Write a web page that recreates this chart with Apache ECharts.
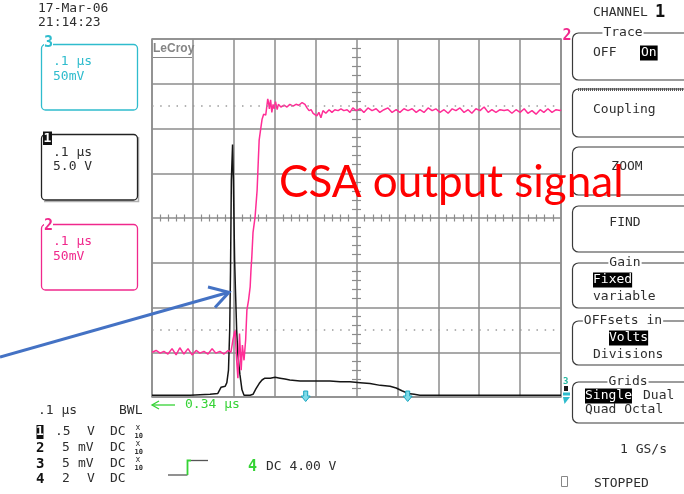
<!DOCTYPE html>
<html>
<head>
<meta charset="utf-8">
<script src="https://cdn.jsdelivr.net/npm/echarts@6/dist/echarts.min.js"></script>
<style>
  html, body { margin: 0; padding: 0; background: #ffffff; }
  #scope { width: 684px; height: 494px; }
</style>
</head>
<body>
<div id="scope"></div>
<script>
// Channel 2 (CSA output): [time ns, mV], 50 mV/div, 0.1 us/div
const ch2Trace = [
  [0,-150],[10,-148],[20,-151],[29,-149],[39,-152],[49,-146],[59,-153],[68,-145],[78,-152],[88,-146],
  [98,-153],[108,-148],[117,-151],[127,-149],[137,-152],[147,-146],[156,-151],[166,-149],[176,-152],[186,-148],
  [193,-150],[198,-136],[203,-125],[207,-159],[210,-179],[214,-129],[218,-170],[221,-142],[225,-159],[229,-136],
  [232,-103],[236,-92],[240,-77],[242,-58],[244,-44],[247,-16],[252,1],[257,31],[260,65],[262,87],
  [265,97],[269,110],[273,116],[278,115],[280,122],[283,133],[285,129],[287,122],[290,132],[293,118],
  [296,127],[299,122],[302,130],[306,121],[309,127],[315,124],[323,126],[330,124],[337,127],[345,125],
  [352,127],[359,126],[367,129],[374,127],[379,123],[384,120],[389,121],[394,117],[398,118],[403,114],
  [408,118],[413,112],[418,120],[425,117],[433,121],[440,118],[447,121],[455,120],[462,122],[469,120],
  [477,121],[484,118],[491,123],[499,120],[509,122],[518,118],[528,123],[538,120],[548,122],[557,118],
  [567,121],[577,123],[587,118],[597,121],[606,118],[616,122],[626,120],[636,122],[646,118],[655,121],
  [665,118],[675,123],[685,120],[694,122],[704,118],[714,121],[724,117],[734,122],[743,120],[753,123],
  [763,118],[773,121],[782,117],[792,122],[802,120],[812,124],[822,118],[831,121],[841,118],[851,121],
  [861,120],[870,121],[880,117],[890,121],[900,118],[910,122],[919,117],[929,120],[939,116],[949,121],
  [958,118],[968,122],[978,118],[988,121],[998,120],[1000,121]
];

// Channel 1 (input pulse): [time ns, V], 5 V/div
const ch1Trace = [
  [0,-19.8],[44,-19.8],[93,-19.8],[142,-19.7],[161,-19.6],[169,-18.9],[179,-18.8],[183,-18.4],[187,-17],
  [190,-12.5],[192,-5.8],[194,4.2],[197,8.2],[199,4.2],[202,-4.7],[204,-8],[207,-12.5],[210,-15.3],
  [215,-17.5],[220,-19.2],[225,-19.8],[240,-19.8],[247,-19.7],[254,-19.1],[262,-18.5],[269,-18.1],
  [276,-17.9],[289,-17.9],[301,-17.8],[313,-17.9],[325,-18],[337,-18.1],[362,-18.2],[386,-18.2],
  [411,-18.2],[435,-18.2],[460,-18.3],[484,-18.3],[509,-18.4],[533,-18.5],[558,-18.7],[582,-18.8],
  [597,-19],[611,-19.3],[626,-19.6],[641,-19.7],[655,-19.8],[1000,-19.8]
];

// Reference dotted levels on channel 2 scale (mV)
const refLevels = [125, -125];

const GRID = '#8c8c8c';
const MONO = '"DejaVu Sans Mono", "Liberation Mono", monospace';
const INK = '#2e2e2e';
const CYAN = '#2fbccd';
const PINK = '#f0288c';
const GREEN = '#35d335';

function T(text, x, y, o) {
  o = o || {};
  return {
    type: 'text', x: x, y: y, z: o.z || 60,
    style: {
      text: text,
      font: o.font || ('13px ' + MONO),
      fill: o.fill || INK,
      align: o.align || 'left',
      verticalAlign: o.va || 'middle',
      backgroundColor: o.bg,
      padding: o.pad
    }
  };
}
function R(x, y, w, h, o) {
  o = o || {};
  return {
    type: 'rect', z: o.z || 55,
    shape: { x: x, y: y, width: w, height: h, r: o.r || 0 },
    style: { fill: o.fill || 'none', stroke: o.stroke || null, lineWidth: o.lw || 1 }
  };
}
function L(points, o) {
  o = o || {};
  return {
    type: 'polyline', z: o.z || 55,
    shape: { points: points },
    style: { stroke: o.stroke || INK, lineWidth: o.lw || 1, fill: 'none', lineDash: o.dash || null, lineCap: o.cap || 'butt' }
  };
}
function cursorArrow(x) {
  return {
    type: 'polygon', z: 58,
    shape: { points: [[x-2,391],[x+2,391],[x+2,396],[x+4.5,396],[x,401.5],[x-4.5,396],[x-2,396]] },
    style: { fill: '#7fdbe8', stroke: '#1aa6c0', lineWidth: 1 }
  };
}
function x10(x, y) {
  return [
    T('x', x + 1, y - 4, { font: '8px ' + MONO }),
    T('10', x, y + 4, { font: 'bold 7px ' + MONO })
  ];
}
function panelBox(y1, y2, label, lx) {
  const out = [R(572.5, y1, 130, y2 - y1, { stroke: '#3a3a3a', lw: 1.2, r: 6 })];
  if (label) out.push(T(label, lx, y1, { align: 'center', bg: '#ffffff', pad: [0, 1] }));
  return out;
}

const graphics = [
  // time stamp
  T('17-Mar-06', 38, 9),
  T('21:14:23', 38, 23),

  // trace descriptor boxes
  R(41.5, 44.5, 96, 65.5, { stroke: CYAN, lw: 1.3, r: 4 }),
  T('3', 44, 43, { font: 'bold 15px ' + MONO, fill: CYAN, bg: '#ffffff' }),
  T('.1 \u03bcs', 53, 62, { fill: CYAN }),
  T('50mV', 53, 77, { fill: CYAN }),

  L([[44, 201.5], [138.5, 201.5], [138.5, 137]], { stroke: '#b0b0b0', lw: 1.5 }),
  R(41.5, 134.5, 96, 65.5, { stroke: '#222222', lw: 1.3, r: 4 }),
  R(43, 131.5, 9, 13.5, { fill: '#111111', z: 57 }),
  T('1', 47.5, 138.5, { font: 'bold 13px ' + MONO, fill: '#ffffff', align: 'center' }),
  T('.1 \u03bcs', 53, 153),
  T('5.0 V', 53, 167),

  R(41.5, 224.5, 96, 65.5, { stroke: PINK, lw: 1.3, r: 4 }),
  T('2', 44, 226, { font: 'bold 15px ' + MONO, fill: PINK, bg: '#ffffff' }),
  T('.1 \u03bcs', 53, 242, { fill: PINK }),
  T('50mV', 53, 257, { fill: PINK }),

  // logo in the graticule
  T('LeCroy', 153, 49, { font: 'bold 12px "Liberation Sans", sans-serif', fill: '#858585' }),
  L([[153, 57.5], [192, 57.5]], { stroke: '#858585', lw: 1.2 }),

  // channel markers at the graticule edge
  T('2', 562.5, 36, { font: 'bold 15px ' + MONO, fill: PINK }),
  T('3', 563, 382, { font: 'bold 9px ' + MONO, fill: '#22b8a0' }),
  R(564, 386, 4, 5, { fill: '#1a1a1a', z: 58 }),
  R(563, 392.5, 7, 3, { fill: CYAN, z: 58 }),
  { type: 'polygon', z: 58, shape: { points: [[563, 397], [570, 397], [564.5, 404]] }, style: { fill: CYAN } },

  // cursors
  cursorArrow(305.7),
  cursorArrow(407.7),

  // delta-time readout
  L([[152, 405], [175, 405]], { stroke: GREEN, lw: 1.3 }),
  L([[159, 401], [152, 405], [159, 409]], { stroke: GREEN, lw: 1.3 }),
  T('0.34 \u03bcs', 185, 405, { fill: GREEN }),

  // bottom channel table
  T('.1 \u03bcs', 38, 411),
  T('BWL', 119, 411),

  R(36.5, 425, 7, 14, { fill: '#111111', z: 57 }),
  T('1', 40, 432, { font: 'bold 13px ' + MONO, fill: '#ffffff', align: 'center' }),
  T('.5', 55, 432), T('V', 87, 432), T('DC', 110, 432),
  ...x10(134.5, 432),

  T('2', 36, 448, { font: 'bold 14px ' + MONO, fill: '#111111' }),
  T('5', 62, 448), T('mV', 78, 448), T('DC', 110, 448),
  ...x10(134.5, 448),

  T('3', 36, 464, { font: 'bold 14px ' + MONO, fill: '#111111' }),
  T('5', 62, 464), T('mV', 78, 464), T('DC', 110, 464),
  ...x10(134.5, 464),

  T('4', 36, 479, { font: 'bold 14px ' + MONO, fill: '#111111' }),
  T('2', 62, 479), T('V', 87, 479), T('DC', 110, 479),

  // trigger symbol and level
  L([[168, 475], [187.5, 475]], { stroke: '#555555', lw: 1.3 }),
  L([[187.5, 475], [187.5, 460.5], [191, 460.5]], { stroke: GREEN, lw: 1.8 }),
  L([[191, 460.5], [208, 460.5]], { stroke: '#555555', lw: 1.3 }),
  T('4', 248, 467, { font: 'bold 15px ' + MONO, fill: GREEN }),
  T('DC 4.00 V', 266, 467),

  // right-hand menu
  T('CHANNEL', 593, 13),
  T('1', 655, 13, { font: 'bold 17px ' + MONO, fill: '#111111' }),
  ...panelBox(33, 80, 'Trace', 623),
  T('OFF', 593, 53),
  T('On', 640, 53, { fill: '#ffffff', bg: '#000000', pad: [1, 1] }),
  ...panelBox(89, 137, null),
  L([[578, 89.5], [690, 89.5]], { stroke: '#555555', lw: 3, dash: [1, 1] }),
  T('Coupling', 593, 110),
  ...panelBox(147, 195, null),
  T('ZOOM', 627, 167, { align: 'center' }),
  ...panelBox(206, 252, null),
  T('FIND', 625, 223, { align: 'center' }),
  ...panelBox(263, 308, 'Gain', 625),
  T('Fixed', 593, 280, { fill: '#ffffff', bg: '#000000', pad: [1, 0] }),
  T('variable', 593, 297),
  ...panelBox(321, 365, 'OFFsets in', 623),
  T('Volts', 609, 338, { fill: '#ffffff', bg: '#000000', pad: [1, 0] }),
  T('Divisions', 593, 355),
  ...panelBox(382, 423, 'Grids', 628),
  T('Single', 585, 396, { fill: '#ffffff', bg: '#000000', pad: [1, 0] }),
  T('Dual', 643, 396),
  T('Quad Octal', 585, 410),
  T('1 GS/s', 620, 450),
  R(561.5, 476.5, 6, 10, { stroke: '#888888', lw: 1 }),
  T('STOPPED', 594, 484),

  // annotation
  T('CSA output signal', 279, 183, { font: '44px "Lato", "Liberation Sans", sans-serif', fill: '#ff0000', z: 90 }),
  L([[0, 357], [228, 292.5]], { stroke: '#4472c4', lw: 3, z: 90 }),
  L([[208, 287], [229, 292.3], [215, 307.5]], { stroke: '#4472c4', lw: 3, z: 90 })
];

const hiddenAxisParts = {
  axisLine: { show: false }, axisTick: { show: false }, axisLabel: { show: false }
};

const option = {
  animation: false,
  backgroundColor: '#ffffff',
  grid: [
    { left: 152, top: 39, width: 409, height: 358, show: true, borderColor: GRID, borderWidth: 1.5 },
    { left: 152, top: 214.5, width: 409, height: 7 },
    { left: 352, top: 39, width: 9, height: 358 }
  ],
  xAxis: [
    Object.assign({ gridIndex: 0, type: 'value', min: 0, max: 1000, interval: 100,
      splitLine: { show: true, lineStyle: { color: GRID, width: 1.5 } } }, hiddenAxisParts),
    Object.assign({ gridIndex: 1, type: 'value', min: 0, max: 1000, interval: 100,
      splitLine: { show: false },
      minorTick: { show: false, splitNumber: 5 },
      minorSplitLine: { show: true, lineStyle: { color: GRID, width: 1.2 } } }, hiddenAxisParts),
    { gridIndex: 2, type: 'value', min: 0, max: 1, show: false }
  ],
  yAxis: [
    Object.assign({ gridIndex: 0, type: 'value', min: -200, max: 200, interval: 50,
      splitLine: { show: true, lineStyle: { color: GRID, width: 1.5 } } }, hiddenAxisParts),
    { gridIndex: 0, type: 'value', min: -20, max: 20, interval: 5, show: false },
    { gridIndex: 1, type: 'value', min: 0, max: 1, show: false },
    Object.assign({ gridIndex: 2, type: 'value', min: -200, max: 200, interval: 50,
      splitLine: { show: false },
      minorTick: { show: false, splitNumber: 5 },
      minorSplitLine: { show: true, lineStyle: { color: GRID, width: 1.2 } } }, hiddenAxisParts)
  ],
  series: [
    {
      name: 'CH1', type: 'line', xAxisIndex: 0, yAxisIndex: 1,
      data: ch1Trace, showSymbol: false, silent: true, z: 3,
      lineStyle: { color: '#151515', width: 1.5 }
    },
    {
      name: 'CH2', type: 'line', xAxisIndex: 0, yAxisIndex: 0,
      data: ch2Trace, showSymbol: false, silent: true, z: 4,
      lineStyle: { color: '#ff2d96', width: 1.5 },
      markLine: {
        silent: true, symbol: 'none', label: { show: false },
        lineStyle: { color: '#9a9a9a', width: 1.5, type: [1.5, 6.68] },
        data: refLevels.map(v => ({ yAxis: v }))
      }
    }
  ],
  graphic: { elements: graphics }
};

const chart = echarts.init(document.getElementById('scope'), null, { renderer: 'canvas' });
chart.setOption(option);
</script>
</body>
</html>
